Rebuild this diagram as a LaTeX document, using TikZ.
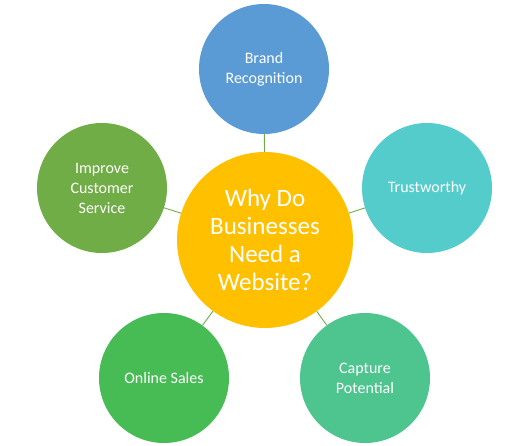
\documentclass[tikz,border=0pt]{standalone}
\usepackage{fontspec}
\setmainfont{Carlito}
\definecolor{cblue}{RGB}{91,155,213}
\definecolor{cteal}{RGB}{84,204,204}
\definecolor{cmint}{RGB}{78,196,142}
\definecolor{cgreen}{RGB}{72,188,84}
\definecolor{colive}{RGB}{112,173,71}
\definecolor{cgold}{RGB}{255,192,0}
\definecolor{cline}{RGB}{112,173,71}
\begin{document}
\begin{tikzpicture}[x=1pt,y=-1pt,
  bub/.style={circle,minimum size=130pt,inner sep=0pt,text=white,align=center,
    font=\fontsize{16}{20}\selectfont},
  hub/.style={circle,minimum size=176pt,inner sep=0pt,fill=cgold,text=white,align=center,
    font=\fontsize{25}{28}\selectfont},
  link/.style={draw=cline,line width=0.9pt}]
\useasboundingbox (0,0) rectangle (530,446);
\node[hub] (c) at (265,240) {Why Do\\Businesses\\Need a\\Website?};
\node[bub,fill=cblue,minimum size=130pt] (b) at (264,69) {Brand\\Recognition};
\node[bub,fill=cteal] (t) at (427,188) {Trustworthy};
\node[bub,fill=cmint] (p) at (365,378) {Capture\\Potential};
\node[bub,fill=cgreen] (o) at (164,378) {Online Sales};
\node[bub,fill=colive] (i) at (102,188) {Improve\\Customer\\Service};
\foreach \n in {b,t,p,o,i} \draw[link] (c) -- (\n);
\end{tikzpicture}
\end{document}
